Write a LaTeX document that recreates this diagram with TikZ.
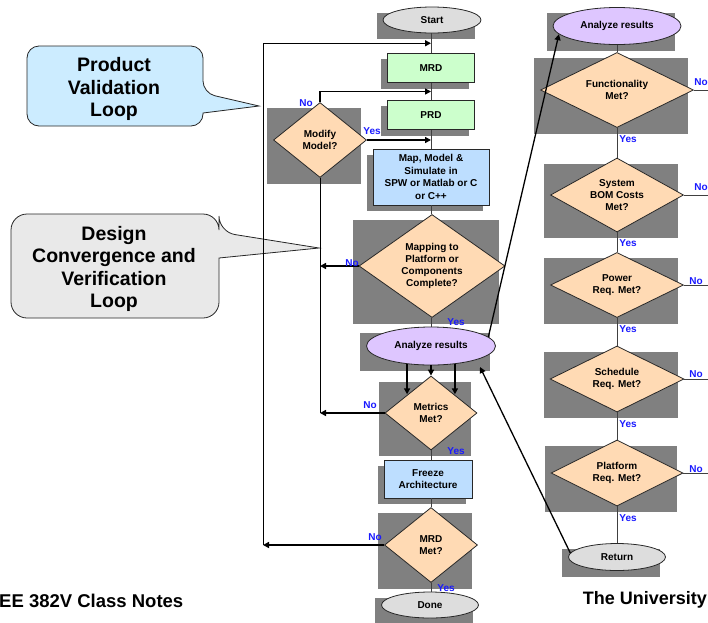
\documentclass[tikz,border=0pt]{standalone}
\usepackage{fontspec}
\setmainfont{Liberation Sans}
\usetikzlibrary{shapes.geometric,backgrounds,calc,arrows.meta}

\definecolor{dropgray}{RGB}{128,128,128}
\definecolor{peach}{RGB}{255,218,180}
\definecolor{mint}{RGB}{204,255,204}
\definecolor{skyfill}{RGB}{189,222,255}
\definecolor{lilac}{RGB}{222,198,255}
\definecolor{pale}{RGB}{221,221,221}
\definecolor{callblue}{RGB}{204,236,255}
\definecolor{callgray}{RGB}{233,233,233}
\definecolor{lblblue}{RGB}{25,25,255}
\definecolor{edge}{RGB}{40,40,40}

% grey drop block behind a node, offset left and down
\newcommand{\dropshade}[1]{\fill[dropgray] ($(#1.west |- #1.north)+(-6,6)$) rectangle ($(#1.east |- #1.south)+(-6,6)$);}

\begin{document}
\begin{tikzpicture}[x=1pt,y=-1pt,
  every node/.style={inner sep=0pt, align=center, font=\bfseries\fontsize{10}{12}\selectfont},
  shapebase/.style={draw=edge, line width=0.8pt},
  procbox/.style={shapebase, rectangle},
  decide/.style={shapebase, diamond, fill=peach, aspect=2},
  oval/.style={shapebase, ellipse},
  flow/.style={draw=black!75, line width=0.8pt},
  loopline/.style={draw=black, line width=1pt},
  looparrow/.style={draw=black, line width=1.5pt, -{Triangle[length=6pt,width=6pt]}},
  diagarrow/.style={draw=black, line width=1.3pt, -{Triangle[length=6pt,width=6pt]}},
  lbl/.style={text=lblblue, font=\bfseries\fontsize{10}{12}\selectfont},
  callout/.style={draw=black!85, line width=0.8pt},
  calltext/.style={font=\bfseries\fontsize{19.5}{22.5}\selectfont},
  foot/.style={font=\bfseries\fontsize{18.5}{21}\selectfont}
]
\useasboundingbox (0,0) rectangle (708,622);

% ---- callouts ----
\draw[callout, fill=callblue] (115,46) [rounded corners=12pt] -- (203,46) -- (203,93)
  [sharp corners] -- (259,106) -- (203,113) -- (203,114) [rounded corners=12pt] -- (203,126)
  -- (27,126) -- (27,46) -- cycle;
\node[calltext] (pvl) at (114,89) {Product\\Validation\\Loop};

\draw[callout, fill=callgray] (115,214) [rounded corners=16pt] -- (219,214) -- (219,232)
  [sharp corners] -- (319,248) -- (219,258) -- (219,259) [rounded corners=16pt] -- (219,318)
  -- (11,318) -- (11,214) -- cycle;
\node[calltext] (dcv) at (114,269) {Design\\Convergence and\\Verification\\Loop};

% ---- main column ----
\node[oval, fill=pale, minimum width=98pt, minimum height=26pt] (start) at (432,20) {Start};
\node[procbox, fill=mint, minimum width=87pt, minimum height=29pt] (mrd) at (431,68) {MRD};
\node[procbox, fill=mint, minimum width=87pt, minimum height=29pt] (prd) at (431,115) {PRD};
\node[procbox, fill=skyfill, minimum width=116pt, minimum height=56pt, font=\bfseries\fontsize{10}{12.5}\selectfont] (map) at (431,177) {Map, Model \&\\Simulate in\\SPW or Matlab or C\\or C++};
\node[decide, aspect=1.42, minimum width=146pt, minimum height=103pt] (mapping) at (432,266) {Mapping to\\Platform or\\Components\\Complete?};
\node[oval, fill=lilac, minimum width=129pt, minimum height=38pt] (ana) at (431,346) {Analyze results};
\node[decide, aspect=1.25, minimum width=92pt, minimum height=74pt] (metrics) at (431,413) {Metrics\\Met?};
\node[procbox, fill=skyfill, minimum width=88pt, minimum height=38pt] (freeze) at (428,479) {Freeze\\Architecture};
\node[decide, aspect=1.25, minimum width=93pt, minimum height=75pt] (mrdmet) at (431,545) {MRD\\Met?};
\node[oval, fill=pale, minimum width=97pt, minimum height=26pt] (done) at (430,605) {Done};
\node[decide, aspect=1.25, minimum width=93pt, minimum height=75pt] (modify) at (320,140) {Modify\\Model?};

% ---- right column ----
\node[oval, fill=lilac, minimum width=128pt, minimum height=37pt] (anatop) at (617,26) {Analyze results};
\node[decide, minimum width=153pt, minimum height=75pt] (func) at (617,90) {Functionality\\Met?};
\node[decide, aspect=1.8, minimum width=133pt, minimum height=74pt] (bom) at (617,195) {System\\BOM Costs\\Met?};
\node[decide, minimum width=133pt, minimum height=65pt] (power) at (617,285) {Power\\Req. Met?};
\node[decide, minimum width=134pt, minimum height=66pt] (sched) at (617,379) {Schedule\\Req. Met?};
\node[decide, minimum width=132pt, minimum height=66pt] (plat) at (617,473) {Platform\\Req. Met?};
\node[oval, fill=pale, minimum width=97pt, minimum height=27pt] (ret) at (617,557) {Return};

% ---- drop blocks ----
\begin{pgfonlayer}{background}
\foreach \n in {start,mrd,prd,map,mapping,ana,metrics,freeze,mrdmet,done,modify,anatop,func,bom,power,sched,plat,ret}
  {\dropshade{\n}}
\end{pgfonlayer}

% ---- junctions and loop corners ----
\coordinate (j1) at ($(mrd.north |- start.south)!0.5!(mrd.north)$);
\coordinate (j2) at ($(mrd.south)!0.5!(prd.north)$);
\coordinate (j3) at (modify.east -| prd.south);
\coordinate (ob) at (263,545);
\coordinate (ot) at (ob |- j1);
\coordinate (ib) at (modify.south |- metrics.west);
\coordinate (rim) at (710,0);
\coordinate (anain) at ($(ana.center)+(49,21)$);

% ---- main flow ----
\draw[flow] (mrd.north |- start.south) -- (mrd.north);
\draw[flow] (mrd.south) -- (prd.north);
\draw[flow] (prd.south) -- (map.north);
\draw[flow] (map.south) -- (map.south |- mapping.north);
\draw[flow] (mapping.south -| ana.north) -- (ana.north);
\draw[looparrow] (ana.south) -- (metrics.north);
\draw[looparrow] (ana.217.6) -- (ana.217.6 |- metrics.north west);
\draw[looparrow] (ana.-37.6) -- (ana.-37.6 |- metrics.north east);
\draw[flow] (metrics.south) -- (metrics.south |- freeze.north);
\draw[flow] (mrdmet.north |- freeze.south) -- (mrdmet.north);
\draw[flow] (mrdmet.south) -- (mrdmet.south |- done.north);

% ---- product validation loop ----
\draw[looparrow] (mrdmet.west) -- (ob);
\draw[loopline] (ob) -- (ot);
\draw[looparrow] (ot) -- (j1);

% ---- design convergence loop ----
\draw[looparrow] (mapping.west) -- (mapping.west -| ib);
\draw[looparrow] (metrics.west) -- (ib);
\draw[loopline] (modify.south) -- (ib);
\draw[looparrow] (modify.north) |- (j2);
\draw[looparrow] (modify.east) -- (j3);

% ---- hand-off to and from the detailed analysis ----
\draw[diagarrow] (ana.9) -- (anatop.188);
\draw[diagarrow] (ret.175) -- (anain);

% ---- right column flow ----
\draw[flow] (anatop.south) -- (func.north);
\draw[flow] (func.south) -- (bom.north);
\draw[flow] (bom.south) -- (power.north);
\draw[flow] (power.south) -- (sched.north);
\draw[flow] (sched.south) -- (plat.north);
\draw[flow] (plat.south) -- (ret.north);
\foreach \n in {func,bom,power,sched,plat}
  {\draw[flow] (\n.east) -- (\n.east -| rim);}

% ---- branch labels ----
\node[lbl] (l1) at (306,103) {No};
\node[lbl] (l2) at (372,131) {Yes};
\node[lbl] (l3) at (352,263) {No};
\node[lbl] (l4) at (456,322) {Yes};
\node[lbl] (l5) at (370,405) {No};
\node[lbl] (l6) at (456,451) {Yes};
\node[lbl] (l7) at (375,537) {No};
\node[lbl] (l8) at (446,588) {Yes};
\node[lbl] (r1) at (701,82) {No};
\node[lbl] (r2) at (628,139) {Yes};
\node[lbl] (r3) at (701,187) {No};
\node[lbl] (r4) at (628,243) {Yes};
\node[lbl] (r5) at (696,281) {No};
\node[lbl] (r6) at (628,329) {Yes};
\node[lbl] (r7) at (696,374) {No};
\node[lbl] (r8) at (628,424) {Yes};
\node[lbl] (r9) at (696,469) {No};
\node[lbl] (r10) at (628,518) {Yes};

% ---- page footer ----
\node[foot, anchor=west] (f1) at (-1,601) {EE 382V Class Notes};
\node[foot, anchor=east, font=\bfseries\fontsize{18}{21}\selectfont] (f2) at (707,600) {The University};
\end{tikzpicture}
\end{document}
